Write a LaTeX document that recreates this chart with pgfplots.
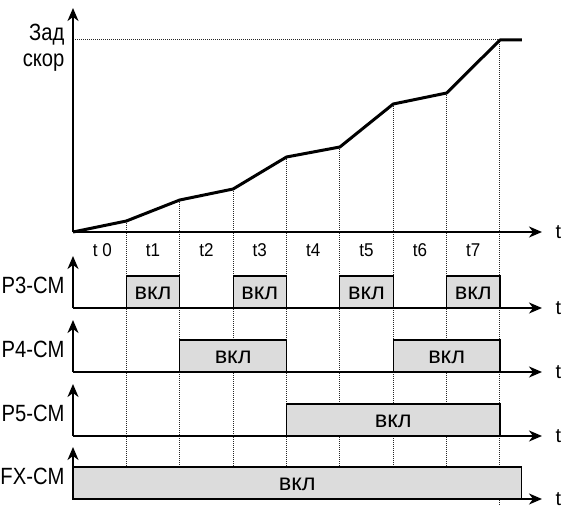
\documentclass[border=0pt]{standalone}
\usepackage{pgfplots}
\pgfplotsset{compat=1.18}
\usepackage{fontspec}
\setmainfont{Liberation Sans}
\usetikzlibrary{arrows.meta}
\definecolor{boxgray}{HTML}{DCDCDC}
\pgfplotsset{
  base/.style={
    axis lines=left, scale only axis, width=469pt,
    xmin=0, xmax=8.787, ymin=0,
    xtick=\empty, ytick=\empty, anchor=south west, clip=false,
    axis on top=true,
    axis line style={line width=1.6pt, -{Stealth[length=13pt,width=11pt,inset=4pt]}},
  },
  sig/.style={base, height=52pt, ymax=52},
  box/.style={draw=black, fill=boxgray, line width=1.2pt, mark=none},
}
\tikzset{dl/.style={line width=1pt, dash pattern=on 1pt off 1pt, black!85}}
\newcommand{\lab}[1]{\fontsize{23.5}{26}\selectfont\scalebox{0.86}[1]{#1}}
\newcommand{\on}{\fontsize{23.5}{26}\selectfont вкл}
\newcommand{\tl}{\fontsize{20}{22}\selectfont t}
\newcommand{\tk}[1]{\fontsize{18.5}{20}\selectfont\scalebox{0.92}[1]{#1}}
\begin{document}
\begin{tikzpicture}
\useasboundingbox (0,0) rectangle (561pt,509pt);
% speed
\begin{axis}[base, at={(73pt,277pt)}, height=224pt, ymax=224]
  \draw[dl] (axis cs:0,192) -- (axis cs:8,192);
  \draw[dl] (axis cs:1,11) -- (axis cs:1,-268);
  \draw[dl] (axis cs:2,32) -- (axis cs:2,-268);
  \draw[dl] (axis cs:3,43) -- (axis cs:3,-268);
  \draw[dl] (axis cs:4,75) -- (axis cs:4,-268);
  \draw[dl] (axis cs:5,85) -- (axis cs:5,-268);
  \draw[dl] (axis cs:6,128) -- (axis cs:6,-268);
  \draw[dl] (axis cs:7,139) -- (axis cs:7,-268);
  \draw[dl] (axis cs:8,192) -- (axis cs:8,-273);
  \addplot[black, line width=3pt, line join=round, mark=none] coordinates {
    (0,0) (1,11) (2,32) (3,43) (4,75) (5,85) (6,128) (7,139) (8,192) (8.41,192)};
  \node[anchor=base east] at (axis cs:0,191) [xshift=-5pt] {\lab{Зад}};
  \node[anchor=base east] at (axis cs:0,166) [xshift=-5pt] {\lab{скор}};
  \node at (axis cs:0.55,-18) {\tk{t 0}};
  \node at (axis cs:1.5,-18) {\tk{t1}};
  \node at (axis cs:2.5,-18) {\tk{t2}};
  \node at (axis cs:3.5,-18) {\tk{t3}};
  \node at (axis cs:4.5,-18) {\tk{t4}};
  \node at (axis cs:5.5,-18) {\tk{t5}};
  \node at (axis cs:6.5,-18) {\tk{t6}};
  \node at (axis cs:7.5,-18) {\tk{t7}};
  \node[anchor=west] at (rel axis cs:1,0) [xshift=10pt] {\tl};
\end{axis}
% P3
\begin{axis}[sig, at={(73pt,201pt)}]
  \addplot[box] coordinates {(1,0) (1,32) (2,32) (2,0)} -- cycle;
  \addplot[box] coordinates {(3,0) (3,32) (4,32) (4,0)} -- cycle;
  \addplot[box] coordinates {(5,0) (5,32) (6,32) (6,0)} -- cycle;
  \addplot[box] coordinates {(7,0) (7,32) (8,32) (8,0)} -- cycle;
  \node at (axis cs:1.5,15) {\on};
  \node at (axis cs:3.5,15) {\on};
  \node at (axis cs:5.5,15) {\on};
  \node at (axis cs:7.5,15) {\on};
  \node[anchor=east] at (axis cs:0,23) [xshift=-5pt] {\lab{P3-CM}};
  \node[anchor=west] at (rel axis cs:1,0) [xshift=10pt] {\tl};
\end{axis}
% P4
\begin{axis}[sig, at={(73pt,137pt)}]
  \addplot[box] coordinates {(2,0) (2,32) (4,32) (4,0)} -- cycle;
  \addplot[box] coordinates {(6,0) (6,32) (8,32) (8,0)} -- cycle;
  \node at (axis cs:3,15) {\on};
  \node at (axis cs:7,15) {\on};
  \node[anchor=east] at (axis cs:0,23) [xshift=-5pt] {\lab{P4-CM}};
  \node[anchor=west] at (rel axis cs:1,0) [xshift=10pt] {\tl};
\end{axis}
% P5
\begin{axis}[sig, at={(73pt,73pt)}]
  \addplot[box] coordinates {(4,0) (4,32) (8,32) (8,0)} -- cycle;
  \node at (axis cs:6,15) {\on};
  \node[anchor=east] at (axis cs:0,23) [xshift=-5pt] {\lab{P5-CM}};
  \node[anchor=west] at (rel axis cs:1,0) [xshift=10pt] {\tl};
\end{axis}
% FX
\begin{axis}[sig, at={(73pt,10pt)}]
  \addplot[box] coordinates {(0,0) (0,32) (8.41,32) (8.41,0)} -- cycle;
  \node at (axis cs:4.2,15) {\on};
  \node[anchor=east] at (axis cs:0,23) [xshift=-5pt] {\lab{FX-CM}};
  \node[anchor=west] at (rel axis cs:1,0) [xshift=10pt] {\tl};
\end{axis}
\end{tikzpicture}
\end{document}
